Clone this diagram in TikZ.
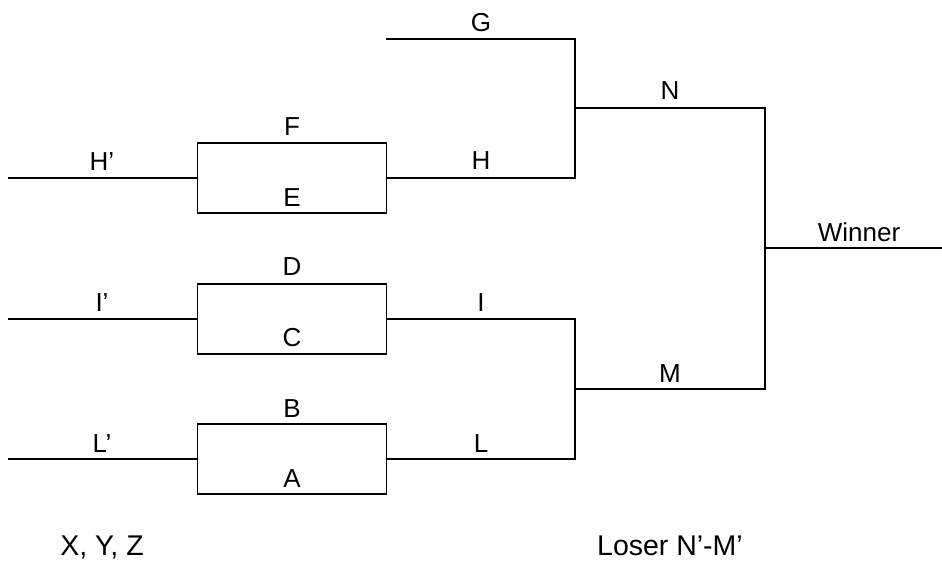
\documentclass[tikz,border=0pt]{standalone}
\usepackage{fontspec}
\setmainfont{Liberation Sans}

\begin{document}
\begin{tikzpicture}[x=1pt, y=-1pt, line width=1.9pt,
    match/.style={rectangle, draw, minimum width=189pt, minimum height=70pt, inner sep=0pt},
    lbl/.style={anchor=base, inner sep=0pt, font=\fontsize{26}{31}\selectfont},
    note/.style={anchor=base, inner sep=0pt, font=\fontsize{28.5}{34}\selectfont}]
    \useasboundingbox (0,0) rectangle (942,563);

    % first round matches
    \node[match] (FE) at (292,178) {};
    \node[match] (DC) at (292,319) {};
    \node[match] (BA) at (292,459) {};

    % line ends and corners
    \coordinate (Hs) at (8,178);
    \coordinate (Is) at (8,319);
    \coordinate (Ls) at (8,459);
    \coordinate (G0) at (386,39);
    \coordinate (Gc) at (575,39);
    \coordinate (Hc) at (575,178);
    \coordinate (Ic) at (575,319);
    \coordinate (Lc) at (575,459);
    \coordinate (Nl) at (575,108);
    \coordinate (Nr) at (765,108);
    \coordinate (Ml) at (575,389);
    \coordinate (Mr) at (765,389);
    \coordinate (W0) at (765,248);
    \coordinate (W1) at (942,248);

    \draw (Hs) -- (FE.west);
    \draw (Is) -- (DC.west);
    \draw (Ls) -- (BA.west);
    \draw (G0) -- (Gc) -- (Hc) -- (FE.east);
    \draw (DC.east) -- (Ic) -- (Lc) -- (BA.east);
    \draw (Nl) -- (Nr) -- (Mr) -- (Ml);
    \draw (W0) -- (W1);

    % labels
    \node[lbl] (hq) at (102,170) {H’};
    \node[lbl] (iq) at (102,311) {I’};
    \node[lbl] (lq) at (102,452) {L’};
    \node[lbl] (f) at (292,135) {F};
    \node[lbl] (e) at (292,206) {E};
    \node[lbl] (d) at (292,275) {D};
    \node[lbl] (c) at (292,346) {C};
    \node[lbl] (b) at (292,417) {B};
    \node[lbl] (a) at (292,487) {A};
    \node[lbl] (g) at (481,31) {G};
    \node[lbl] (h) at (481,169) {H};
    \node[lbl] (i) at (481,311) {I};
    \node[lbl] (l) at (481,452) {L};
    \node[lbl] (n) at (670,99) {N};
    \node[lbl] (m) at (670,382) {M};
    \node[lbl] (win) at (859,241) {Winner};
    \node[note] (xyz) at (102,555) {X, Y, Z};
    \node[note] (lose) at (670,555) {Loser N’-M’};
\end{tikzpicture}
\end{document}
